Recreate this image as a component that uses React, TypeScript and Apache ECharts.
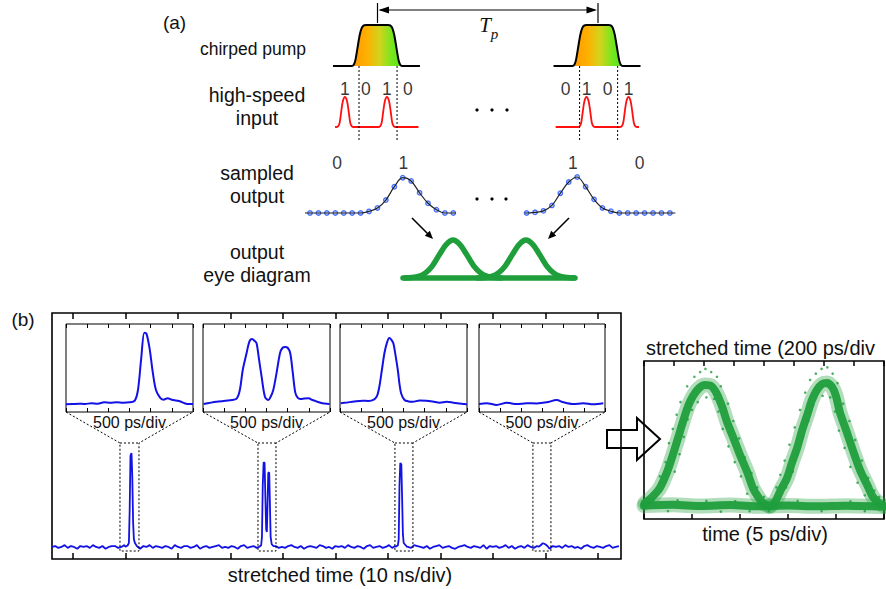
import React, { useEffect, useRef } from "react";
import * as echarts from "echarts";

const W = 886;
const H = 589;
const FONT = "'Liberation Sans', Arial, Helvetica, sans-serif";
const SERIF = "'Liberation Serif', 'Times New Roman', serif";
const INK = "#111";
const RED = "#ff1010";
const BLUE = "#1212e6";
const DOT_BLUE = "#1f4fff";
const GREEN = "#1f9e3c";

// ================= Panel (a) data =================
// chirped pump pulse (time in bit slots, normalised amplitude)
const pumpShape: number[][] = [
  [-0.57, 0], [0.33, 0], [0.42, 0.03], [0.5, 0.15], [0.6, 0.45], [0.7, 0.75], [0.8, 0.93], [0.9, 0.99], [1.0, 1],
  [2.05, 1], [2.15, 0.99], [2.25, 0.93], [2.35, 0.75], [2.45, 0.45], [2.55, 0.15], [2.63, 0.03], [2.72, 0], [3.57, 0],
];
const pumpStarts = [0, 10.5];
// high-speed input bits
const inputBits = [["1", "0", "1", "0"], ["0", "1", "0", "1"]];
const bitGroupStarts = [0, 10.5];
const inputPulse: number[][] = [
  [-0.42, 0], [-0.32, 0.03], [-0.25, 0.15], [-0.18, 0.5], [-0.1, 0.86], [0, 1],
  [0.1, 0.86], [0.18, 0.5], [0.25, 0.15], [0.32, 0.03], [0.42, 0],
];
const inputSpan = [-0.47, 3.5];
const pumpEdges = [0.67, 2.48, 11.17, 12.98];
// sampled output
const sampledLeft = [0, 0, 0, 0, 0, 0, 0, 0.045, 0.14, 0.36, 0.73, 0.98, 0.89, 0.56, 0.27, 0.09, 0, 0];
const sampledLeftStart = 0;
const sampledRight = [0, 0.02, 0.06, 0.21, 0.55, 0.86, 1.0, 0.73, 0.38, 0.14, 0.05, 0, 0, 0, 0, 0, 0, 0];
const sampledRightStart = 25.7;
const sampledLabels: [number, string][] = [[3.2, "0"], [11.07, "1"], [31.2, "1"], [39.1, "0"]];
// output eye diagram (sketch)
const eyeAPulseShape: number[][] = [
  [-2.8, 0], [-2.4, 0.011], [-2.0, 0.044], [-1.6, 0.135], [-1.2, 0.32], [-0.8, 0.61], [-0.4, 0.88], [0, 1],
  [0.4, 0.88], [0.8, 0.61], [1.2, 0.32], [1.6, 0.135], [2.0, 0.044], [2.4, 0.011], [2.8, 0],
];
const eyeAPulseCenters = [2.91, 7.15];
const eyeABaseline: number[][] = [[0, 0], [10, 0]];

// ================= Panel (b) data =================
// stretched time in divisions (10 ns/div), normalised amplitude
const mainTicks = [0, 1, 2, 3, 4, 5, 6, 7, 8, 9, 10];
const mainBase = 0.049;
const mainJitterScale = 0.0037;
const mainStep = 0.06;
const mainJitter = [
  0, 1, -1, 0, 2, -1, 1, 0, -2, 1,
  0, 1, -1, 2, 0, -1, 1, -2, 0, 1,
  1, -1, 0, 2, -1, 0, 1, -1, -2, 1,
  0, 2, -1, 1, 0, -1, 1, 0, -2, 2,
  0, -1, 1, 1, -1, 0, 2, -2, 0, 1,
  -1, 0, 1, 2, -1, 0, -1, 1, 0, -2,
  1, 2, -1, 0, 1, -1, 0, 1, -2, 0,
  2, 1, -1, 0, -1, 1, 2, 0, -1, 1,
  -2, 0, 1, 0, -1, 2, 1, -1, 0, -2,
  1, 0, 1, -1, 2, 0, -1, 1, 0, -2,
  1, 2, -1, 0, 1, -1, 0, 2, -1, 1,
  0, -2, 1, 0, -1, 2, 1, 0, -1, 1,
  -2, 0, 1, 2, -1, 0, 1, -1, -2, 0,
  1, 2, 0, -1, 1, 0, -1, 2, -2, 1,
  0, 1, -1, 0, 2, -1, 1, -2, 0, 1,
  -1, 2, 0, -1, 1, 0, 2, -1, -2, 1,
  0, 1, -1, 2, 0, 1, -1, 0, -2, 1,
  2, 0, -1, 1, 0, -1, 1, 2, -1, 0,
  1, -2, 0, 1, -1, 2, 0, -1, 1, 0,
];
const spike1: number[][] = [
  [1.0, 0.05], [1.04, 0.055], [1.065, 0.065], [1.08, 0.2], [1.095, 0.42], [1.115, 0.43], [1.13, 0.33],
  [1.145, 0.15], [1.16, 0.08], [1.18, 0.065], [1.22, 0.052],
];
const spike2: number[][] = [
  [3.55, 0.05], [3.585, 0.056], [3.6, 0.09], [3.615, 0.3], [3.632, 0.393], [3.65, 0.39], [3.665, 0.25],
  [3.68, 0.12], [3.693, 0.11], [3.706, 0.22], [3.72, 0.35], [3.738, 0.352], [3.752, 0.22], [3.765, 0.09],
  [3.785, 0.06], [3.82, 0.052],
];
const spike3: number[][] = [
  [6.15, 0.05], [6.19, 0.056], [6.205, 0.08], [6.22, 0.3], [6.235, 0.39], [6.255, 0.385], [6.27, 0.25],
  [6.285, 0.1], [6.3, 0.065], [6.32, 0.06], [6.36, 0.05],
];
const spike4: number[][] = [
  [8.88, 0.05], [8.92, 0.058], [8.95, 0.064], [8.98, 0.062], [9.01, 0.058], [9.05, 0.05],
];
const zoomWindows = [[0.895, 1.257], [3.524, 3.867], [6.133, 6.476], [8.762, 9.105]];
// insets: 500 ps/div, centred on window
const inset1: number[][] = [
  [-3.0, 0.088], [-2.7, 0.09], [-2.4, 0.095], [-2.1, 0.09], [-1.8, 0.1], [-1.5, 0.095], [-1.2, 0.11],
  [-0.9, 0.105], [-0.6, 0.11], [-0.3, 0.105], [0.0, 0.11], [0.25, 0.13], [0.4, 0.25], [0.55, 0.6],
  [0.7, 0.9], [0.8, 0.89], [0.95, 0.72], [1.1, 0.45], [1.25, 0.25], [1.45, 0.16], [1.6, 0.14],
  [1.8, 0.155], [2.0, 0.14], [2.2, 0.13], [2.4, 0.12], [2.6, 0.1], [2.8, 0.09], [3.0, 0.09],
];
const inset2: number[][] = [
  [-2.98, 0.09], [-2.37, 0.117], [-1.83, 0.13], [-1.42, 0.15], [-1.26, 0.25], [-1.12, 0.48], [-0.94, 0.67],
  [-0.81, 0.8], [-0.68, 0.83], [-0.57, 0.81], [-0.47, 0.78], [-0.36, 0.61], [-0.23, 0.4], [-0.07, 0.17],
  [0.09, 0.136], [0.19, 0.17], [0.32, 0.25], [0.48, 0.45], [0.64, 0.67], [0.76, 0.73], [0.88, 0.74],
  [1.0, 0.73], [1.12, 0.67], [1.24, 0.45], [1.36, 0.22], [1.48, 0.16], [1.6, 0.148], [1.79, 0.153],
  [1.99, 0.156], [2.17, 0.136], [2.36, 0.12], [2.55, 0.106], [2.74, 0.097], [2.98, 0.09],
];
const inset3: number[][] = [
  [-2.97, 0.099], [-2.67, 0.108], [-2.33, 0.119], [-1.94, 0.128], [-1.67, 0.125], [-1.38, 0.144],
  [-1.24, 0.19], [-1.14, 0.29], [-1.02, 0.48], [-0.9, 0.67], [-0.79, 0.78], [-0.67, 0.84], [-0.57, 0.82],
  [-0.48, 0.78], [-0.38, 0.65], [-0.27, 0.48], [-0.19, 0.32], [-0.11, 0.21], [0.05, 0.136], [0.24, 0.12],
  [0.44, 0.117], [0.76, 0.13], [1.08, 0.128], [1.38, 0.119], [1.71, 0.106], [2.05, 0.116], [2.35, 0.106],
  [2.62, 0.097], [2.9, 0.09], [3.0, 0.085],
];
const inset4: number[][] = [
  [-3.0, 0.09], [-2.63, 0.1], [-2.16, 0.08], [-1.68, 0.105], [-1.2, 0.09], [-0.73, 0.1], [-0.25, 0.098],
  [0.22, 0.11], [0.7, 0.135], [1.02, 0.11], [1.49, 0.09], [1.97, 0.1], [2.44, 0.088], [2.92, 0.1],
];
const insetCurves = [inset1, inset2, inset3, inset4];
// measured eye diagram: time 5 ps/div (bottom), 200 ps/div stretched (top)
const eyeBPulse1: number[][] = [
  [0.02, 0.101], [0.17, 0.139], [0.33, 0.196], [0.48, 0.297], [0.6, 0.405], [0.71, 0.513], [0.81, 0.614],
  [0.92, 0.715], [1.02, 0.778], [1.15, 0.829], [1.27, 0.848], [1.4, 0.842], [1.52, 0.791], [1.63, 0.709],
  [1.73, 0.614], [1.88, 0.5], [2.0, 0.405], [2.15, 0.297], [2.27, 0.196], [2.38, 0.139], [2.48, 0.101],
  [2.62, 0.082],
];
const eyeBPulse2: number[][] = [
  [2.62, 0.082], [2.73, 0.108], [2.85, 0.184], [2.98, 0.259], [3.08, 0.354], [3.19, 0.449], [3.29, 0.557],
  [3.4, 0.658], [3.5, 0.753], [3.6, 0.816], [3.71, 0.854], [3.81, 0.861], [3.92, 0.835], [4.0, 0.778],
  [4.08, 0.677], [4.21, 0.563], [4.35, 0.437], [4.5, 0.31], [4.65, 0.215], [4.77, 0.139], [4.9, 0.101],
  [5.0, 0.082],
];
const eyeBBaseline: number[][] = [
  [0, 0.085], [0.6, 0.09], [1.2, 0.082], [1.8, 0.088], [2.4, 0.08], [3.0, 0.086], [3.6, 0.08], [4.2, 0.084], [5.0, 0.078],
];
const eyeBSpeckles: number[][] = [
  [0.33, 0.27], [0.45, 0.36], [0.64, 0.3], [0.52, 0.48], [0.74, 0.41], [0.6, 0.57], [0.83, 0.52],
  [0.68, 0.66], [0.91, 0.63], [0.76, 0.74], [1.0, 0.69], [0.9, 0.84], [1.12, 0.74],
  [1.05, 0.9], [1.17, 0.93], [1.28, 0.95], [1.4, 0.93], [1.52, 0.9], [1.46, 0.76], [1.3, 0.77],
  [1.6, 0.84], [1.55, 0.68], [1.75, 0.73], [1.64, 0.57], [1.86, 0.62], [1.76, 0.46], [1.98, 0.51],
  [1.89, 0.36], [2.1, 0.39], [2.02, 0.27], [2.24, 0.29], [2.15, 0.16], [2.36, 0.2], [2.5, 0.14],
  [2.76, 0.2], [2.84, 0.28], [2.96, 0.2], [2.93, 0.37], [3.1, 0.3], [3.03, 0.47], [3.2, 0.41],
  [3.14, 0.58], [3.31, 0.52], [3.25, 0.69], [3.42, 0.62], [3.36, 0.8], [3.52, 0.72], [3.46, 0.88],
  [3.58, 0.92], [3.7, 0.95], [3.82, 0.96], [3.93, 0.92], [3.72, 0.78], [3.88, 0.77],
  [4.03, 0.86], [3.98, 0.68], [4.15, 0.73], [4.06, 0.56], [4.28, 0.62], [4.18, 0.45], [4.4, 0.5],
  [4.3, 0.33], [4.54, 0.37], [4.45, 0.23], [4.67, 0.26], [4.6, 0.15], [4.8, 0.18], [4.9, 0.14],
  [0.2, 0.12], [0.7, 0.118], [1.3, 0.115], [1.9, 0.113], [2.6, 0.05], [3.2, 0.115], [3.7, 0.05], [4.3, 0.112],
  [0.5, 0.05], [1.6, 0.047], [4.6, 0.05], [2.2, 0.05],
];

// ================= layout =================
const A_LEFT = 300;
const A_WIDTH = 380;
const A_TMIN = -2.14;
const A_TMAX = 15.95;
const MAIN = { left: 52, top: 313, width: 569, height: 246 };
const MAIN_XMIN = -0.4;
const MAIN_XMAX = 10.44;
const INSETS = [
  { left: 66, width: 127 },
  { left: 203, width: 127 },
  { left: 340, width: 127 },
  { left: 479, width: 126 },
];
const INSET_TOP = 324;
const INSET_H = 88;
const ZOOM_TOP_PX = 443;
const ZOOM_BOTTOM_PX = 551;
const EYEB = { left: 644, top: 361, width: 240, height: 158 };

function buildOption() {
  const grids: any[] = [];
  const xAxis: any[] = [];
  const yAxis: any[] = [];
  const series: any[] = [];

  const grid = (left: number, top: number, width: number, height: number, border = 0) => {
    grids.push({
      left, top, width, height, containLabel: false, show: border > 0,
      borderColor: "#000", borderWidth: border, backgroundColor: "transparent",
    });
    return grids.length - 1;
  };
  const hiddenX = (gridIndex: number, min: number, max: number) => {
    xAxis.push({ type: "value", gridIndex, min, max, show: false });
    return xAxis.length - 1;
  };
  const hiddenY = (gridIndex: number, min: number, max: number) => {
    yAxis.push({ type: "value", gridIndex, min, max, show: false });
    return yAxis.length - 1;
  };
  const tickX = (gridIndex: number, min: number, max: number, position: string, tick: any, interval?: number) => {
    const ax: any = {
      type: "value", gridIndex, min, max, position,
      axisLine: { show: false, onZero: false },
      axisLabel: { show: false },
      splitLine: { show: false },
      axisTick: { show: true, inside: true, ...tick },
    };
    if (interval !== undefined) ax.interval = interval;
    xAxis.push(ax);
    return xAxis.length - 1;
  };
  const line = (xi: number, yi: number, data: any[], lineStyle: any, extra: any = {}) => {
    series.push({
      type: "line", xAxisIndex: xi, yAxisIndex: yi, data, showSymbol: false, symbol: "none",
      clip: false, silent: true, lineStyle, ...extra,
    });
  };
  const labelScatter = (xi: number, yi: number, data: any[], fontSize: number) => {
    series.push({
      type: "scatter", xAxisIndex: xi, yAxisIndex: yi, data, symbolSize: 1, silent: true, clip: false,
      itemStyle: { color: "rgba(0,0,0,0)" },
      label: {
        show: true, position: "inside", formatter: (p: any) => p.value[2],
        fontSize, fontFamily: FONT, color: "#000", textBorderWidth: 0,
      },
    });
  };

  // ---------- (a) chirped pump ----------
  const gP = grid(A_LEFT, 25, A_WIDTH, 41);
  const xP = hiddenX(gP, A_TMIN, A_TMAX);
  const yP = hiddenY(gP, 0, 1);
  const pumpGradient = new echarts.graphic.LinearGradient(0, 0, 1, 0, [
    { offset: 0, color: "#ff9800" },
    { offset: 0.3, color: "#ffb000" },
    { offset: 0.55, color: "#d2d41c" },
    { offset: 0.8, color: "#74e61e" },
    { offset: 1, color: "#5ee01a" },
  ]);
  pumpStarts.forEach((s) => {
    const shifted = pumpShape.map(([t, v]) => [t + s, v]);
    line(xP, yP, shifted.slice(1, -1), { width: 0, opacity: 0 }, {
      smooth: 0.2, areaStyle: { color: pumpGradient, opacity: 1, origin: "start" },
    });
    line(xP, yP, shifted, { color: "#000", width: 2 }, { smooth: 0.2 });
  });

  // ---------- (a) high-speed input ----------
  const gI = grid(A_LEFT, 97, A_WIDTH, 30);
  const xI = hiddenX(gI, A_TMIN, A_TMAX);
  const yI = hiddenY(gI, 0, 1);
  bitGroupStarts.forEach((s, gi) => {
    const pts: number[][] = [[inputSpan[0] + s, 0]];
    inputBits[gi].forEach((b, i) => {
      if (b === "1") inputPulse.forEach(([dt, v]) => pts.push([s + i + dt, v]));
    });
    pts.push([inputSpan[1] + s, 0]);
    line(xI, yI, pts, { color: RED, width: 1.8 }, { smooth: 0.3 });
  });

  // ---------- (a) bit marks & dashed slot edges ----------
  const gM = grid(A_LEFT, 66, A_WIDTH, 74);
  const xM = hiddenX(gM, A_TMIN, A_TMAX);
  const yM = hiddenY(gM, 0, 1);
  pumpEdges.forEach((t) => line(xM, yM, [[t, 0], [t, 1]], { color: "#000", width: 1, type: [2, 2] }));
  const digitData: any[] = [];
  inputBits.forEach((bits, g) => bits.forEach((b, i) => digitData.push([bitGroupStarts[g] + i, 0.689, b])));
  labelScatter(xM, yM, digitData, 17.5);

  // ---------- (a) sampled output ----------
  const gS = grid(A_LEFT, 155, A_WIDTH, 58);
  const xS = hiddenX(gS, -1.19, 43.9);
  const yS = hiddenY(gS, 0, 1.611);
  const leftPts = sampledLeft.map((v, i) => [sampledLeftStart + i, v]);
  const rightPts = sampledRight.map((v, i) => [sampledRightStart + i, v]);
  line(xS, yS, [[sampledLeftStart - 0.6, 0], ...leftPts, [sampledLeftStart + sampledLeft.length - 0.7, 0]],
    { color: "#222", width: 1.2 }, { smooth: 0.35 });
  line(xS, yS, [[sampledRightStart - 0.25, 0], ...rightPts, [sampledRightStart + sampledRight.length - 0.35, 0]],
    { color: "#222", width: 1.2 }, { smooth: 0.35 });
  series.push({
    type: "scatter", xAxisIndex: xS, yAxisIndex: yS, data: [...leftPts, ...rightPts], symbolSize: 4.5,
    silent: true, clip: false,
    itemStyle: { color: "#b8ccff", borderColor: DOT_BLUE, borderWidth: 1.3 },
  });
  labelScatter(xS, yS, sampledLabels.map(([k, s]) => [k, 1.375, s]), 17.5);

  // ---------- (a) output eye diagram ----------
  const gE = grid(403, 240, 172, 38);
  const xE = hiddenX(gE, 0, 10);
  const yE = hiddenY(gE, 0, 1);
  line(xE, yE, eyeABaseline, { color: GREEN, width: 5.5, cap: "round" });
  eyeAPulseCenters.forEach((c) =>
    line(xE, yE, eyeAPulseShape.map(([d, v]) => [c + d, v]), { color: GREEN, width: 5.5, cap: "round" }, { smooth: 0.3 })
  );

  // ---------- (b) main trace ----------
  const gMain = grid(MAIN.left, MAIN.top, MAIN.width, MAIN.height, 1.6);
  const mainTick = { length: 6, customValues: mainTicks, lineStyle: { color: "#000", width: 1.5 } };
  const xMain = tickX(gMain, MAIN_XMIN, MAIN_XMAX, "bottom", mainTick);
  tickX(gMain, MAIN_XMIN, MAIN_XMAX, "top", mainTick);
  const yMain = hiddenY(gMain, 0, 1);
  const spikes = [spike1, spike2, spike3, spike4];
  const noise = mainJitter
    .map((j, i) => [MAIN_XMIN + i * mainStep, mainBase + j * mainJitterScale])
    .filter((p) => p[0] <= MAIN_XMAX + 1e-9)
    .filter((p) => !spikes.some((s) => p[0] >= s[0][0] && p[0] <= s[s.length - 1][0]));
  const mainData = [...noise, ...spikes.flat()].sort((a, b) => a[0] - b[0]);
  line(xMain, yMain, mainData, { color: BLUE, width: 1.8 });

  const mainXFromPx = (px: number) => MAIN_XMIN + ((px - MAIN.left) / MAIN.width) * (MAIN_XMAX - MAIN_XMIN);
  const mainYFromPx = (py: number) => (MAIN.top + MAIN.height - py) / MAIN.height;
  const zTop = mainYFromPx(ZOOM_TOP_PX);
  const zBot = mainYFromPx(ZOOM_BOTTOM_PX);
  const insetBot = mainYFromPx(INSET_TOP + INSET_H);
  const dash = { color: "#000", width: 1, type: [2, 2] };
  zoomWindows.forEach(([w0, w1], i) => {
    const il = mainXFromPx(INSETS[i].left);
    const ir = mainXFromPx(INSETS[i].left + INSETS[i].width);
    line(xMain, yMain, [[il, insetBot], [w0, zTop], [w0, zBot], [w1, zBot], [w1, zTop], [ir, insetBot]], dash);
    line(xMain, yMain, [[w0, zTop], [w1, zTop]], dash);
  });

  // ---------- (b) insets ----------
  INSETS.forEach((r, i) => {
    const g = grid(r.left, INSET_TOP, r.width, INSET_H, 1);
    const tk = { length: 4, lineStyle: { color: "#000", width: 1 } };
    const xi = tickX(g, -3, 3, "bottom", tk, 1);
    tickX(g, -3, 3, "top", tk, 1);
    const yi = hiddenY(g, 0, 1);
    line(xi, yi, insetCurves[i], { color: BLUE, width: 2 }, { smooth: 0.3 });
  });

  // ---------- (b) measured eye diagram ----------
  const gB = grid(EYEB.left, EYEB.top, EYEB.width, EYEB.height, 1.6);
  const etk = { length: 5, lineStyle: { color: "#000", width: 1.5 } };
  const xB = tickX(gB, 0, 5, "bottom", etk, 1);
  tickX(gB, 0, 8, "top", etk, 1);
  const yB = hiddenY(gB, 0, 1);
  // soft halo (scatter cloud) then dense core
  [eyeBBaseline, eyeBPulse1, eyeBPulse2].forEach((d) =>
    line(xB, yB, d, { color: GREEN, width: 15, opacity: 0.35, cap: "round" }, { smooth: 0.3 })
  );
  [eyeBBaseline, eyeBPulse1, eyeBPulse2].forEach((d) =>
    line(xB, yB, d, { color: GREEN, width: 8, opacity: 0.95, cap: "round" }, { smooth: 0.3 })
  );
  series.push({
    type: "scatter", xAxisIndex: xB, yAxisIndex: yB, data: eyeBSpeckles, symbolSize: 2.6, silent: true,
    clip: false, itemStyle: { color: GREEN },
  });

  // ---------- annotations ----------
  const txt = (text: string, x: number, y: number, size: number, extra: any = {}) => ({
    type: "text", x, y, silent: true,
    style: {
      text, fontSize: size, fontFamily: FONT, fill: INK,
      align: "center", verticalAlign: "middle", textAlign: "center", textVerticalAlign: "middle",
      lineHeight: 23, ...extra,
    },
  });
  const seg = (x1: number, y1: number, x2: number, y2: number, w = 1) => ({
    type: "line", silent: true, shape: { x1, y1, x2, y2 }, style: { stroke: "#000", lineWidth: w },
  });
  const tri = (pts: number[][]) => ({ type: "polygon", silent: true, shape: { points: pts }, style: { fill: "#000" } });
  const dot = (cx: number, cy: number) => ({ type: "circle", silent: true, shape: { cx, cy, r: 1.6 }, style: { fill: "#000" } });

  const graphics: any[] = [
    txt("(a)", 174.5, 22.5, 19),
    txt("chirped pump", 253, 48.5, 17.5),
    txt("high-speed\ninput", 257, 106, 19.5),
    txt("sampled\noutput", 257, 184, 19.5),
    txt("output\neye diagram", 257, 263, 19.5),
    txt("(b)", 23, 319, 19),
    ...INSETS.map((r) => txt("500 ps/div", r.left + r.width / 2, 422, 16)),
    txt("stretched time (10 ns/div)", 340, 575, 20),
    txt("stretched time (200 ps/div", 646, 348, 20, { align: "left", textAlign: "left" }),
    txt("time (5 ps/div)", 765, 534, 20),
    txt("T", 485, 25, 21, { fontFamily: SERIF, fontStyle: "italic" }),
    txt("p", 494.5, 34, 15, { fontFamily: SERIF, fontStyle: "italic" }),
    // T_p double arrow
    seg(380, 10, 595, 10, 1),
    seg(377.5, 3, 377.5, 23, 1.2),
    seg(598, 3, 598, 23, 1.2),
    tri([[378.5, 10], [389, 6.5], [389, 13.5]]),
    tri([[597, 10], [586.5, 6.5], [586.5, 13.5]]),
    // ellipses
    dot(477, 110), dot(492, 110), dot(507, 110),
    dot(477, 199), dot(492, 199), dot(506, 199),
    // arrows to eye diagram
    seg(412, 218, 428, 234, 1.6),
    tri([[433, 239], [424.8, 235.8], [429.8, 230.8]]),
    seg(569, 218, 553, 234, 1.6),
    tri([[548, 239], [556.2, 235.8], [551.2, 230.8]]),
    // hollow block arrow
    {
      type: "polygon", silent: true,
      shape: { points: [[607, 430], [637, 430], [637, 418], [660, 439], [637, 460], [637, 448], [607, 448]] },
      style: { fill: "rgba(255,255,255,0)", stroke: "#000", lineWidth: 2 },
    },
  ];

  return {
    animation: false,
    backgroundColor: "#fff",
    textStyle: { fontFamily: FONT },
    grid: grids,
    xAxis,
    yAxis,
    series,
    graphic: { elements: graphics },
  };
}

export default function App() {
  const ref = useRef<HTMLDivElement>(null);
  useEffect(() => {
    if (!ref.current) return;
    const chart = echarts.init(ref.current, undefined, { renderer: "svg", width: W, height: H });
    chart.setOption(buildOption() as any);
    return () => chart.dispose();
  }, []);
  return (
    <div
      ref={ref}
      style={{ position: "absolute", left: 0, top: 0, width: W, height: H, background: "#fff" }}
    />
  );
}
